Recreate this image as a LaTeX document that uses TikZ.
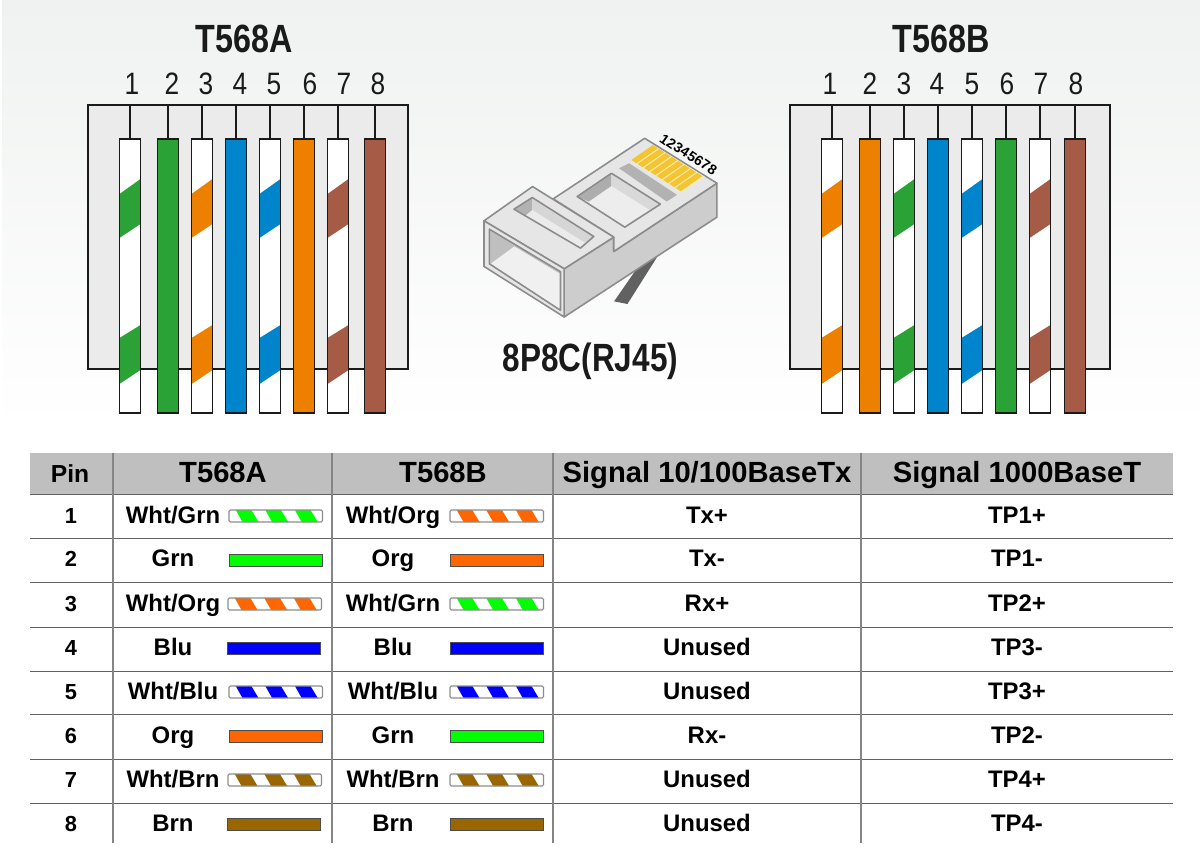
\documentclass[tikz,border=0pt]{standalone}
\usepackage{fontspec}
\usepackage{graphicx}
\setmainfont{Liberation Sans}
\definecolor{wgrn}{HTML}{2AA236}
\definecolor{worg}{HTML}{EE8000}
\definecolor{wblu}{HTML}{0085CC}
\definecolor{wbrn}{HTML}{A55B45}
\definecolor{sgrn}{HTML}{00FF00}
\definecolor{sorg}{HTML}{FF6600}
\definecolor{sblu}{HTML}{0000FF}
\definecolor{sbrn}{HTML}{996600}
\definecolor{ink}{HTML}{1A1A1A}
\definecolor{hdr}{HTML}{BFBFBF}
\definecolor{plug}{HTML}{E6E6E6}
\definecolor{plugside}{HTML}{CDCDCD}
\definecolor{plugline}{HTML}{8C8C8C}
\definecolor{bgtop}{HTML}{EFF2F0}
\definecolor{gold}{HTML}{F4C531}
\definecolor{goldgap}{HTML}{F6EDB8}
\tikzset{
  titletext/.style={font=\fontsize{11.2pt}{12pt}\selectfont\bfseries,text=ink,inner sep=0pt},
  pintext/.style={font=\fontsize{8.8pt}{10pt}\selectfont,text=ink,inner sep=0pt},
  headtext/.style={font=\fontsize{8.3pt}{9pt}\selectfont\bfseries,text=black,inner sep=0pt,anchor=base},
  bodytext/.style={font=\fontsize{6.8pt}{8pt}\selectfont\bfseries,text=black,inner sep=0pt,anchor=base},
  numtext/.style={font=\fontsize{6.2pt}{8pt}\selectfont\bfseries,text=black,inner sep=0pt,anchor=base},
  blockbox/.style={draw=ink,line width=.55pt,fill=black!8},
  wirebox/.style={draw=ink,line width=.55pt},
  pline/.style={draw=plugline,line width=.45pt,line join=round},
  rowline/.style={draw=black!62,line width=.22pt},
  colline/.style={draw=black!48,line width=.3pt},
}
% solid wire: x, colour
\newcommand{\solidwire}[2]{%
  \draw[ink,line width=.55pt] (#1,105) -- (#1,139);
  \draw[wirebox,fill=#2] (#1-10.5,139) rectangle (#1+10.5,413);
}
% striped wire: x, colour
\newcommand{\stripewire}[2]{%
  \draw[ink,line width=.55pt] (#1,105) -- (#1,139);
  \fill[white] (#1-10.5,139) rectangle (#1+10.5,413);
  \fill[#2] (#1-10.5,194) -- (#1+10.5,179) -- (#1+10.5,224) -- (#1-10.5,238) -- cycle;
  \fill[#2] (#1-10.5,338) -- (#1+10.5,325) -- (#1+10.5,370) -- (#1-10.5,384) -- cycle;
  \draw[wirebox] (#1-10.5,139) rectangle (#1+10.5,413);
}
% table swatches: left x, centre y, colour
\newcommand{\solidswatch}[3]{%
  \draw[black!70,line width=.25pt,fill=#3] (#1,#2-6) rectangle (#1+93.5,#2+6);
}
\newcommand{\stripeswatch}[3]{%
  \fill[white] (#1,#2-6) rectangle (#1+93.5,#2+6);
  \foreach \k in {0,1,2}{
    \fill[#3] (#1+6.7+29.6*\k,#2-6) -- (#1+22.3+29.6*\k,#2-6) -- (#1+29.5+29.6*\k,#2+6) -- (#1+13.5+29.6*\k,#2+6) -- cycle;
  }
  \draw[black!45,line width=.3pt,rounded corners=.4pt] (#1,#2-6) rectangle (#1+93.5,#2+6);
}
\begin{document}
\begin{tikzpicture}[x=0.01cm,y=-0.01cm]
\useasboundingbox (0,0) rectangle (1200,858);
\fill[white] (0,0) rectangle (1200,858);
\shade[top color=bgtop,bottom color=white] (2,0) rectangle (1200,430);

% T568A block
\node[titletext] (titleA) at (244,39) {\scalebox{.82}[1]{T568A}};
\draw[blockbox] (88,105) rectangle (408,369);
\stripewire{130}{wgrn}
\solidwire{168}{wgrn}
\stripewire{202}{worg}
\solidwire{236}{wblu}
\stripewire{270}{wblu}
\solidwire{304}{worg}
\stripewire{338}{wbrn}
\solidwire{375}{wbrn}
\foreach \n/\x in {1/132,2/172,3/206,4/240,5/274,6/310,7/344,8/378}
  \node[pintext] (lA\n) at (\x,84) {\scalebox{.85}[1]{\n}};

% T568B block
\node[titletext] (titleB) at (941,39) {\scalebox{.82}[1]{T568B}};
\draw[blockbox] (790,105) rectangle (1110,369);
\stripewire{832}{worg}
\solidwire{870}{worg}
\stripewire{904}{wgrn}
\solidwire{938}{wblu}
\stripewire{972}{wblu}
\solidwire{1006}{wgrn}
\stripewire{1040}{wbrn}
\solidwire{1075}{wbrn}
\foreach \n/\x in {1/830,2/870,3/904,4/937,5/972,6/1007,7/1041,8/1076}
  \node[pintext] (lB\n) at (\x,84) {\scalebox{.85}[1]{\n}};

% RJ45 plug
\begin{scope}[shift={(470,120)},x=0.003333cm,y=-0.003333cm]
  % cable
  \fill[black!62] (433,545) -- (525,412) -- (562,412) -- (473,553) -- cycle;
  % lower side
  \draw[pline,fill=plugside] (283,447) -- (432,352) -- (432,395) -- (742,190) -- (742,292) -- (283,592) -- cycle;
  % top plate
  \draw[pline,fill=plug] (250,237) -- (525,55) -- (742,190) -- (432,395) -- (432,352) -- cycle;
  % front block top
  \draw[pline,fill=plug] (42,303) -- (188,200) -- (432,352) -- (283,447) -- cycle;
  % front face
  \draw[pline,fill=plug] (42,303) -- (283,447) -- (283,592) -- (42,440) -- cycle;
  \fill[black!25] (58,328) -- (272,456) -- (272,572) -- (58,432) -- cycle;
  \fill[black!6] (62,432) -- (133,380) -- (270,462) -- (270,570) -- cycle;
  \draw[pline] (58,328) -- (272,456) -- (272,572) -- (58,432) -- cycle;
  % front block window
  \fill[black!8] (132,268) -- (187,233) -- (372,350) -- (332,385) -- cycle;
  \fill[black!30] (132,268) -- (187,233) -- (187,270) -- (165,288) -- cycle;
  \fill[black!16] (187,233) -- (372,350) -- (345,368) -- (187,270) -- cycle;
  \draw[pline] (132,268) -- (187,233) -- (372,350) -- (332,385) -- cycle;
  % contact window
  \fill[black!7] (322,230) -- (425,160) -- (572,253) -- (465,322) -- cycle;
  \fill[black!32] (322,230) -- (425,160) -- (425,198) -- (357,245) -- cycle;
  \fill[black!15] (425,160) -- (572,253) -- (540,270) -- (425,198) -- cycle;
  \draw[pline] (322,230) -- (425,160) -- (572,253) -- (465,322) -- cycle;
  % slot
  \fill[black!30] (448,145) -- (478,130) -- (622,225) -- (591,245) -- cycle;
  % gold contacts
  \fill[goldgap] (485,120) -- (550,75) -- (705,170) -- (637,218) -- cycle;
  \foreach \k in {0,...,7}{
    \fill[gold] (485+19*\k,120+12*\k) -- (550+19*\k,75+12*\k) -- (565+19*\k,85+12*\k) -- (500+19*\k,130+12*\k) -- cycle;
  }
  % numbers
  \foreach \n in {1,...,8}{
    \node[font=\fontsize{4pt}{5pt}\selectfont\bfseries,text=black,inner sep=0pt,rotate=-35] (contact\n) at ({585+20.5*(\n-1)},{58+12.9*(\n-1)}) {\n};
  }
\end{scope}
\node[font=\fontsize{11.2pt}{12pt}\selectfont\bfseries,text=ink,inner sep=0pt] (plugname) at (590.5,361) {\scalebox{.8}[1]{8P8C(RJ45)}};

% table
\fill[hdr] (30,453) rectangle (1173,494);
\foreach \y in {538.5,582.5,627,671,714.5,759,803}
  \draw[rowline] (30,\y) -- (1173,\y);
\draw[rowline] (30,494) -- (1173,494);
\foreach \x in {113,332,553,861}
  \draw[colline] (\x,453) -- (\x,843);
\node[headtext] (hPin) at (70,482) {\fontsize{7pt}{8pt}\selectfont Pin};
\node[headtext] (hA) at (223,482) {T568A};
\node[headtext] (hB) at (443,482) {T568B};
\node[headtext] (hS) at (707,482) {Signal 10/100BaseTx};
\node[headtext] (hG) at (1017,482) {Signal 1000BaseT};

\foreach \r/\y/\aname/\bname/\sig/\gig in {
  1/515/Wht\slash Grn/Wht\slash Org/Tx+/TP1+,
  2/559/Grn/Org/Tx-/TP1-,
  3/603/Wht\slash Org/Wht\slash Grn/Rx+/TP2+,
  4/647/Blu/Blu/Unused/TP3-,
  5/691/Wht\slash Blu/Wht\slash Blu/Unused/TP3+,
  6/735/Org/Grn/Rx-/TP2-,
  7/779/Wht\slash Brn/Wht\slash Brn/Unused/TP4+,
  8/823/Brn/Brn/Unused/TP4-}{
  \node[numtext] (n\r) at (71,\y+8) {\r};
  \node[bodytext] (a\r) at (173,\y+8) {\aname};
  \node[bodytext] (b\r) at (393,\y+8) {\bname};
  \node[bodytext] (s\r) at (707,\y+8) {\sig};
  \node[bodytext] (g\r) at (1017,\y+8) {\gig};
}
\stripeswatch{229}{516}{sgrn}
\stripeswatch{450}{516}{sorg}
\solidswatch{229}{560}{sgrn}
\solidswatch{450}{560}{sorg}
\stripeswatch{228}{604}{sorg}
\stripeswatch{450}{604}{sgrn}
\solidswatch{227}{648}{sblu}
\solidswatch{450}{648}{sblu}
\stripeswatch{229}{692}{sblu}
\stripeswatch{450}{692}{sblu}
\solidswatch{229}{736}{sorg}
\solidswatch{450}{736}{sgrn}
\stripeswatch{228}{780}{sbrn}
\stripeswatch{450}{780}{sbrn}
\solidswatch{227}{824}{sbrn}
\solidswatch{450}{824}{sbrn}
\end{tikzpicture}
\end{document}
